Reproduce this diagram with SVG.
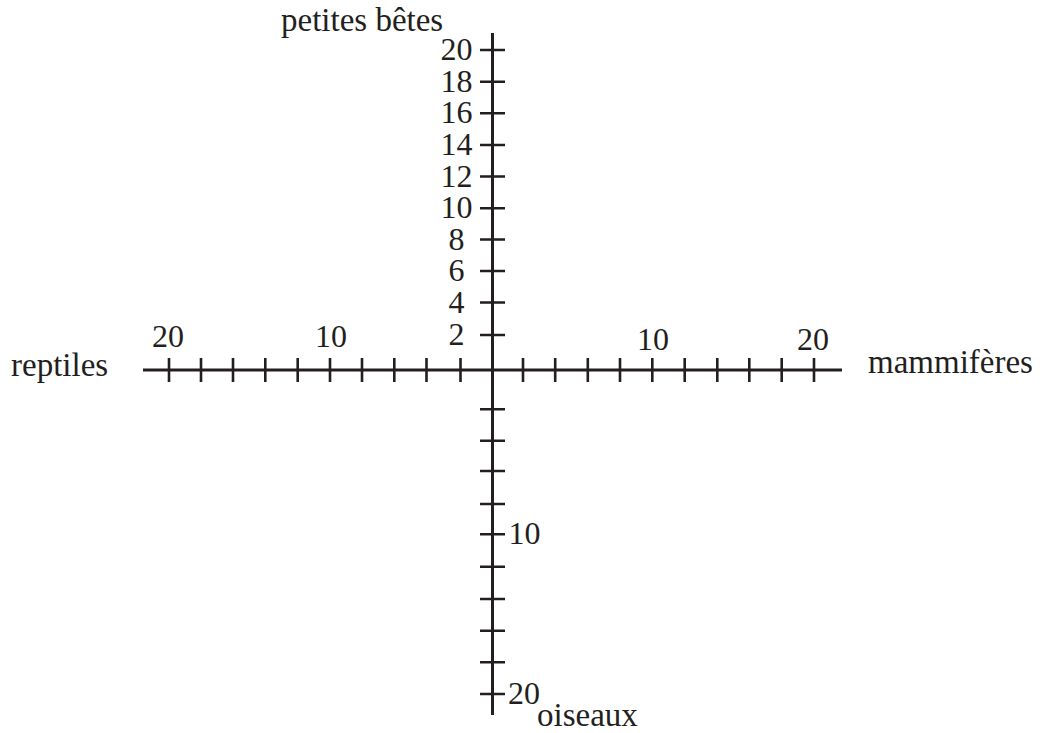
<svg xmlns="http://www.w3.org/2000/svg" width="1040" height="733" viewBox="0 0 1040 733">
<style>
.ax{stroke:#231f20;stroke-width:3;fill:none}
.tk{stroke:#231f20;stroke-width:2.6;fill:none}
text{font-family:"Liberation Serif","Times New Roman",serif;font-size:32px;fill:#231f20}
.w{font-size:33px}
.m{text-anchor:middle}
</style>
<rect width="1040" height="733" fill="#fff"/>
<g id="connectors">
<line class="ax" x1="143" y1="370" x2="842" y2="370"/>
<line class="ax" x1="492.5" y1="33" x2="492.5" y2="715"/>
<path class="tk" d="M169,358v24M201,358v24M233,358v24M265.3,358v24M297.7,358v24M330,358v24M362,358v24M394.3,358v24M426.5,358v24M460.5,358v24M523,358v24M555.2,358v24M587.8,358v24M620,358v24M652.3,358v24M684.7,358v24M717.3,358v24M749.3,358v24M781.7,358v24M814,358v24"/>
<path class="tk" d="M480,50h25M480,81.7h25M480,113.3h25M480,145h25M480,176.5h25M480,208.3h25M480,239.5h25M480,271h25M480,302.5h25M480,335h25"/>
<path class="tk" d="M480,409.3h25M480,440.7h25M480,471h25M480,504h25M480,534.3h25M480,566.7h25M480,599h25M480,630.7h25M480,662.3h25M480,694h25"/>
</g>
<g id="label-petites-betes"><text class="w" x="281" y="31">petites bêtes</text></g>
<g id="label-reptiles"><text class="w" x="11" y="376">reptiles</text></g>
<g id="label-mammiferes"><text class="w" x="868" y="373">mammifères</text></g>
<g id="label-oiseaux"><text class="w" x="537" y="726">oiseaux</text></g>
<g id="x-labels">
<text class="m" x="168" y="347">20</text>
<text class="m" x="331" y="347">10</text>
<text class="m" x="653" y="350">10</text>
<text class="m" x="813" y="350">20</text>
</g>
<g id="y-labels">
<text class="m" x="456.5" y="60">20</text>
<text class="m" x="456.5" y="91.7">18</text>
<text class="m" x="456.5" y="123.3">16</text>
<text class="m" x="456.5" y="155">14</text>
<text class="m" x="456.5" y="186.5">12</text>
<text class="m" x="456.5" y="218.3">10</text>
<text class="m" x="456.5" y="249.5">8</text>
<text class="m" x="456.5" y="281">6</text>
<text class="m" x="456.5" y="312.5">4</text>
<text class="m" x="456.5" y="345">2</text>
<text x="508.5" y="543.5">10</text>
<text x="508" y="703.5">20</text>
</g>
</svg>
